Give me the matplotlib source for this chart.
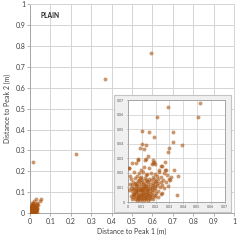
import matplotlib
matplotlib.use("Agg")
import matplotlib.pyplot as plt
from matplotlib.patches import Rectangle
import numpy as np

plt.rcParams["font.family"] = ["Lato", "DejaVu Sans"]

# points far from the origin, only visible in the main panel (m)
far_x = [0.366, 0.592, 0.225, 0.016]
far_y = [0.645, 0.768, 0.283, 0.246]

# points near the origin (units of 1e-3 m)
near_mm = [
    (52.4, 67.7), (29.3, 65.0), (50.5, 58.0), (20.7, 58.0), (10.5, 48.6),
    (15.1, 47.7), (32.9, 48.1), (18.8, 44.5), (32.4, 41.3), (39.5, 39.2),
    (10.2, 39.9), (13.4, 38.8), (8.8, 37.4), (11.5, 36.3), (29.3, 34.0),
    (30.0, 37.0), (14.6, 31.9), (7.3, 29.4), (12.0, 29.0), (2.7, 27.0),
    (6.0, 26.7), (0.5, 23.0), (33.7, 22.0), (36.0, 18.0), (35.4, 4.8),
    (23.9, 5.7), (30.5, 14.8),
    (7.6, 28.5), (12.9, 29.2), (19.0, 27.6), (19.8, 26.2), (18.3, 28.5),
    (17.3, 25.8), (17.8, 26.9), (0.7, 23.0), (9.3, 22.3), (15.4, 23.5),
    (22.7, 22.3), (27.6, 21.7), (11.7, 23.9), (27.1, 27.6), (23.9, 24.6),
    (24.4, 24.4), (26.8, 21.7),
    # y ~ 17-21
    (4.5, 20.5), (8.0, 19.8), (11.2, 20.9), (14.0, 19.5), (16.8, 20.2),
    (19.5, 19.0), (22.5, 20.4), (25.8, 19.6), (28.4, 18.6), (6.2, 18.0),
    (9.6, 17.5), (13.1, 18.3), (18.0, 17.2), (21.2, 17.8), (24.0, 17.0),
    (1.8, 17.6), (31.0, 17.3),
    # y ~ 13-17
    (2.5, 15.8), (4.8, 16.5), (6.9, 14.6), (8.7, 16.2), (10.3, 15.0),
    (12.0, 16.6), (13.5, 14.2), (15.2, 15.8), (16.9, 14.9), (18.6, 16.1),
    (20.3, 14.4), (22.0, 15.6), (23.6, 13.8), (25.4, 15.2), (27.9, 14.0),
    (29.8, 15.9), (3.6, 13.4), (5.9, 13.0), (9.1, 13.6), (11.4, 13.2),
    (14.7, 13.5), (17.8, 13.1), (19.9, 13.7), (21.9, 13.0), (12.8, 15.4),
    (7.8, 15.3),
    # y ~ 9-13
    (1.3, 12.2), (3.0, 11.5), (4.9, 12.4), (6.4, 10.8), (7.9, 12.1),
    (9.2, 11.2), (10.6, 12.6), (11.9, 10.4), (13.2, 11.8), (14.5, 10.9),
    (15.8, 12.3), (17.1, 10.2), (18.4, 11.6), (19.8, 10.7), (21.3, 12.0),
    (22.9, 10.3), (24.6, 11.5), (26.3, 9.9), (28.7, 11.0), (2.2, 9.6),
    (4.1, 9.9), (5.6, 9.2), (7.2, 9.7), (8.6, 9.0), (10.1, 9.5),
    (11.5, 8.9), (12.9, 9.8), (14.2, 9.1), (16.0, 9.6), (17.6, 9.0),
    (19.4, 9.3), (6.0, 11.9), (12.3, 11.0),
    # y ~ 5-9
    (1.0, 8.2), (2.7, 7.4), (3.9, 8.6), (5.1, 7.0), (6.5, 8.1),
    (7.6, 6.6), (8.9, 7.9), (10.0, 6.8), (11.2, 8.3), (12.4, 7.1),
    (13.6, 8.0), (14.8, 6.5), (16.1, 7.7), (17.5, 6.9), (18.9, 8.1),
    (20.4, 6.4), (22.1, 7.5), (24.4, 6.2), (3.3, 5.8), (4.6, 5.2),
    (6.0, 6.0), (7.3, 5.1), (8.5, 5.7), (9.7, 5.0), (11.0, 5.9),
    (12.2, 5.3), (13.5, 5.8), (15.4, 5.1), (17.0, 5.6), (19.2, 5.0),
    (5.5, 7.6), (9.4, 8.5), (14.0, 7.4),
    # y ~ 1-5
    (2.0, 4.2), (3.4, 3.5), (4.6, 4.6), (5.8, 3.1), (6.9, 4.3),
    (8.0, 2.8), (9.1, 4.0), (10.3, 2.6), (11.4, 3.8), (12.6, 2.9),
    (13.8, 4.1), (15.0, 3.0), (16.3, 4.4), (17.7, 3.3), (19.6, 4.0),
    (21.5, 3.2), (4.9, 2.0), (6.3, 1.5), (7.5, 2.2), (8.8, 1.3),
    (10.0, 1.9), (11.3, 1.4), (12.8, 2.0), (14.4, 1.6), (16.0, 2.1),
    (18.2, 1.8), (3.0, 2.4), (7.0, 3.6), (10.8, 4.6), (13.2, 3.4),
]
near_x = [p[0] / 1000 for p in near_mm]
near_y = [p[1] / 1000 for p in near_mm]

all_x = far_x + near_x
all_y = far_y + near_y

dot = "#a9520f"
grid_c = "#d4d4d4"
text_c = "#404040"

fig = plt.figure(figsize=(2.4, 2.4), dpi=100)

# main panel
ax = fig.add_axes([30 / 240, 27 / 240, 204 / 240, 208.5 / 240])
ax.scatter(all_x, all_y, s=8, color=dot, alpha=0.6, linewidths=0, zorder=3)
ax.set_xlim(0, 1)
ax.set_ylim(0, 1)
ticks = np.round(np.arange(0, 1.01, 0.1), 1)
ax.set_xticks(ticks)
ax.set_yticks(ticks)
ax.set_xticklabels(["0" if t == 0 else ("1" if t == 1 else f"{t:g}") for t in ticks])
ax.set_yticklabels(["0" if t == 0 else ("1" if t == 1 else f"{t:g}") for t in ticks])
ax.grid(True, color=grid_c, lw=0.7, zorder=0)
ax.tick_params(labelsize=5, colors=text_c, length=2, width=0.6, pad=1.5)
ax.tick_params(axis="both", color="#a6a6a6")
for side in ["left", "bottom"]:
    ax.spines[side].set_color("#a6a6a6")
    ax.spines[side].set_linewidth(0.7)
for side in ["top", "right"]:
    ax.spines[side].set_color(grid_c)
    ax.spines[side].set_linewidth(0.7)
ax.set_xlabel("Distance to Peak 1 (m)", fontsize=5, color=text_c, labelpad=2)
ax.set_ylabel("Distance to Peak 2 (m)", fontsize=5, color=text_c, labelpad=3)
ax.text(0.05, 0.945, "PLAIN", transform=ax.transAxes, fontsize=4.8,
        fontweight="bold", color="#262626", va="center", ha="left")

# inset frame
frame = Rectangle((114 / 240, 28 / 240), 116.5 / 240, 117 / 240,
                  transform=fig.transFigure, facecolor="#f0f0f0",
                  edgecolor="#c4c4c4", lw=0.8, zorder=5)
fig.patches.append(frame)

# inset zoom panel
ins = fig.add_axes([128 / 240, 38 / 240, 96.5 / 240, 102 / 240], zorder=6)
ins.scatter(near_x, near_y, s=8, color=dot, alpha=0.6, linewidths=0, zorder=3)
ins.set_xlim(0, 0.07)
ins.set_ylim(0, 0.07)
iticks = np.round(np.arange(0, 0.0701, 0.01), 2)
ins.set_xticks(iticks)
ins.set_yticks(iticks)
ins.set_xticklabels(["0" if t == 0 else f"{t:.2f}" for t in iticks])
ins.set_yticklabels(["0" if t == 0 else f"{t:.2f}" for t in iticks])
ins.grid(True, color=grid_c, lw=0.6, zorder=0)
ins.tick_params(labelsize=2.6, colors="#595959", length=1, width=0.4, pad=1.5)
for side in ins.spines.values():
    side.set_color("#a6a6a6")
    side.set_linewidth(0.7)

fig.savefig("out.png", dpi=100)
